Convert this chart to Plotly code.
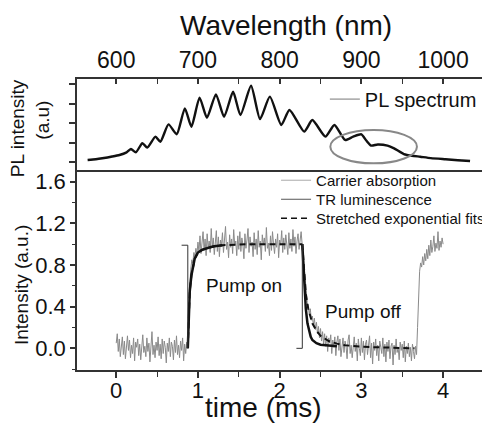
import numpy as np
import plotly.graph_objects as go

# ---------------- top panel: PL spectrum ----------------
pl_wavelength = [565, 575, 583, 595, 604, 612, 618, 624, 632, 638, 648, 654, 664, 674,
                 684, 692, 702, 711, 722, 732, 743, 752, 765, 776, 788, 802, 812, 830,
                 840, 856, 867, 880, 890, 900, 906, 912, 920, 932, 940, 952, 962, 972,
                 985, 1003, 1018, 1033]
pl_intensity = [0.10, 0.14, 0.19, 0.28, 0.36, 0.48, 0.67, 0.50, 0.96, 0.74, 1.30, 1.04, 1.93, 1.42,
                2.75, 1.81, 3.30, 2.27, 3.47, 2.32, 3.60, 2.41, 3.91, 2.20, 3.35, 1.90, 2.67, 1.56,
                2.15, 1.30, 1.90, 1.13, 1.30, 1.42, 1.10, 0.84, 0.90, 0.84, 0.70, 0.41, 0.32, 0.27,
                0.20, 0.14, 0.09, 0.05]
ellipse_nm = [862, 968]
ellipse_pl = [-0.07, 1.64]

# ---------------- bottom panel: time traces ----------------
ca_step = 0.0125
# carrier absorption before the pump (t = 0 ... 0.875)
ca_dark_t0 = 0.0
ca_dark = [0.05, 0.14, -0.03, 0.09, -0.08, 0.02, 0.11, -0.06, 0.07, -0.10,
           0.04, 0.12, -0.02, 0.08, -0.09, 0.03, -0.05, 0.10, -0.12, 0.06,
           0.01, 0.09, -0.07, 0.04, -0.11, 0.07, 0.13, -0.04, 0.02, -0.08,
           0.10, -0.03, 0.05, -0.13, 0.08, 0.16, -0.06, 0.03, -0.09, 0.06,
           -0.02, 0.11, -0.07, 0.04, -0.10, 0.09, -0.05, 0.07, 0.01, -0.14,
           0.05, -0.03, 0.10, -0.08, 0.06, 0.02, -0.11, 0.08, -0.04, 0.12,
           -0.06, 0.03, -0.09, 0.07, -0.02, 0.10, -0.12, 0.04, -0.05, 0.06,
           0.02]
# pump on (t = 0.8875 ... 2.275)
ca_on_t0 = 0.8875
ca_on = [0.35, 0.60, 0.76, 0.85, 0.82, 0.92, 0.88, 0.96, 0.90, 1.02,
         0.93, 1.08, 0.91, 0.99, 1.12, 0.94, 1.05, 0.89, 1.10, 0.96,
         1.03, 0.92, 1.15, 0.97, 1.06, 0.90, 1.01, 1.13, 0.93, 1.07,
         0.88, 1.04, 0.98, 1.11, 0.92, 1.06, 1.17, 0.95, 1.02, 0.87,
         1.09, 0.97, 1.05, 0.91, 1.14, 0.99, 1.03, 0.89, 1.08, 0.95,
         1.12, 0.93, 1.06, 1.00, 0.86, 1.10, 0.96, 1.04, 1.15, 0.92,
         1.07, 0.98, 1.02, 0.88, 1.11, 0.95, 1.05, 0.90, 1.13, 0.97,
         1.03, 0.85, 1.09, 0.99, 1.06, 0.93, 1.16, 0.96, 1.01, 0.89,
         1.08, 0.94, 1.12, 1.00, 0.91, 1.05, 0.97, 1.10, 0.87, 1.04,
         0.99, 1.13, 0.92, 1.06, 0.95, 1.09, 1.01, 0.90, 1.11, 0.96,
         1.05, 0.93, 1.14, 0.98, 1.07, 0.91, 1.03, 1.10, 0.95, 1.06,
         1.12, 1.00]
# pump off (t = 2.2875 ... 3.675)
ca_off_t0 = 2.2875
ca_off = [0.88, 0.74, 0.60, 0.52, 0.44, 0.40, 0.33, 0.38, 0.27, 0.31,
          0.22, 0.29, 0.18, 0.25, 0.14, 0.21, 0.10, 0.19, 0.07, 0.16,
          0.04, 0.14, 0.02, 0.12, -0.03, 0.10, 0.05, 0.13, -0.05, 0.08,
          0.01, 0.11, -0.07, 0.06, 0.12, -0.02, 0.09, -0.08, 0.04, 0.10,
          -0.04, 0.07, 0.02, -0.10, 0.08, 0.13, -0.05, 0.03, -0.09, 0.06,
          0.11, -0.03, 0.05, -0.12, 0.09, 0.00, -0.07, 0.10, -0.04, 0.07,
          -0.11, 0.04, 0.08, -0.06, 0.02, 0.12, -0.09, 0.05, -0.15, 0.06,
          -0.02, 0.09, -0.07, 0.03, -0.12, 0.07, 0.01, -0.05, 0.10, -0.08,
          0.04, -0.13, 0.06, -0.03, 0.08, -0.10, 0.02, 0.05, -0.16, 0.03,
          -0.06, 0.09, -0.04, 0.01, -0.11, 0.06, -0.02, 0.04, -0.09, 0.07,
          -0.13, 0.02, -0.05, 0.05, -0.08, 0.01, -0.12, 0.04, -0.03, -0.10,
          0.02, -0.06]
# next pump on (t = 3.6875 ... 4.0)
ca_back_t0 = 3.6875
ca_back = [0.20, 0.52, 0.74, 0.82, 0.78, 0.88, 0.80, 0.91, 0.84, 0.95,
           0.86, 0.99, 0.89, 1.04, 0.92, 0.98, 1.08, 0.93, 1.01, 0.96,
           1.12, 0.94, 1.03, 0.97, 1.06, 1.00]

# TR luminescence (rise and decay parts)
tr_rise_t = [0.876, 0.885, 0.90, 0.92, 0.94, 0.96, 0.98, 1.00, 1.05, 1.10, 1.15, 1.20, 1.25, 1.30]
tr_rise = [0.0, 0.30, 0.55, 0.70, 0.80, 0.86, 0.89, 0.92, 0.945, 0.96, 0.97, 0.98, 0.985, 0.99]
tr_fall_t = [2.277, 2.29, 2.30, 2.32, 2.34, 2.36, 2.38, 2.40, 2.45, 2.50, 2.55, 2.60, 2.65, 2.70]
tr_fall = [1.0, 0.78, 0.60, 0.38, 0.24, 0.16, 0.11, 0.08, 0.05, 0.035, 0.03, 0.025, 0.02, 0.02]

# stretched exponential fits
fit_rise_t = [0.876, 0.885, 0.90, 0.92, 0.94, 0.96, 0.98, 1.00, 1.05, 1.10, 1.20, 1.30, 1.60, 2.277]
fit_rise = [0.0, 0.30, 0.55, 0.70, 0.80, 0.86, 0.89, 0.92, 0.945, 0.96, 0.98, 0.99, 1.0, 1.0]
fit_fall_t = [2.277, 2.29, 2.30, 2.32, 2.35, 2.40, 2.45, 2.50, 2.60, 2.70, 2.80, 3.00, 3.20, 3.40, 3.65]
fit_fall = [1.0, 0.85, 0.72, 0.52, 0.38, 0.24, 0.17, 0.12, 0.07, 0.045, 0.03, 0.015, 0.01, 0.005, 0.0]

# pump edges
pump_on_t = [0.80, 0.876, 0.876]
pump_on_v = [0.99, 0.99, 0.0]
pump_off_t = [2.277, 2.277, 2.205]
pump_off_v = [1.0, 0.0, 0.0]


def seg_t(t0, vals):
    return list(np.round(t0 + ca_step * np.arange(len(vals)), 5))


ca_t = seg_t(ca_dark_t0, ca_dark) + seg_t(ca_on_t0, ca_on) + seg_t(ca_off_t0, ca_off) + seg_t(ca_back_t0, ca_back)
ca_v = ca_dark + ca_on + ca_off + ca_back

FONT = "Liberation Sans"
AX = "#333333"

fig = go.Figure()

# top panel
fig.add_trace(go.Scatter(x=pl_wavelength, y=pl_intensity, mode="lines", xaxis="x2", yaxis="y2",
                         line=dict(color="#111111", width=2.4, shape="spline", smoothing=0.6),
                         showlegend=False))
fig.add_trace(go.Scatter(x=[None], y=[None], mode="lines", xaxis="x2", yaxis="y2", name="PL spectrum",
                         line=dict(color="#777777", width=1), legend="legend2"))

# bottom panel
fig.add_trace(go.Scatter(x=ca_t, y=ca_v, mode="lines", line=dict(color="#8a8a8a", width=1),
                         showlegend=False))
fig.add_trace(go.Scatter(x=fit_rise_t + [None] + fit_fall_t, y=fit_rise + [None] + fit_fall, mode="lines",
                         line=dict(color="#111111", width=2, dash="6px,4px"), showlegend=False))
fig.add_trace(go.Scatter(x=tr_rise_t + [None] + tr_fall_t, y=tr_rise + [None] + tr_fall, mode="lines",
                         line=dict(color="#111111", width=2.5), showlegend=False))
fig.add_trace(go.Scatter(x=pump_on_t + [None] + pump_off_t, y=pump_on_v + [None] + pump_off_v, mode="lines",
                         line=dict(color="#333333", width=1), showlegend=False))

# legend entries (one legend box per row)
fig.add_trace(go.Scatter(x=[None], y=[None], mode="lines", name="Carrier absorption",
                         line=dict(color="#aaaaaa", width=1), legend="legend"))
fig.add_trace(go.Scatter(x=[None], y=[None], mode="lines", name="TR luminescence",
                         line=dict(color="#555555", width=1), legend="legend3"))
fig.add_trace(go.Scatter(x=[None], y=[None], mode="lines", name="Stretched exponential fits",
                         line=dict(color="#111111", width=1.5, dash="6px,4px"), legend="legend4"))

fig.add_shape(type="circle", xref="x2", yref="y2", x0=ellipse_nm[0], x1=ellipse_nm[1],
              y0=ellipse_pl[0], y1=ellipse_pl[1], line=dict(color="#888888", width=2))

# page body has an 8 px margin: figure drawn 482x416 so it ends at the window edge
split = 200 / 291
leg = dict(xanchor="left", yanchor="top", bgcolor="rgba(0,0,0,0)", font=dict(size=15))

fig.update_layout(
    width=482, height=416,
    margin=dict(l=69, r=0, t=71, b=54),
    paper_bgcolor="white", plot_bgcolor="white",
    font=dict(family=FONT, color="#111111"),
    xaxis=dict(range=[-0.48, 4.476], dtick=1, tick0=0, showline=True, linecolor=AX, linewidth=1.5,
               ticks="outside", ticklen=6, tickwidth=1.5, tickcolor=AX, showgrid=False, zeroline=False,
               minor=dict(dtick=0.5, tick0=0, ticks="outside", ticklen=5, tickcolor=AX, tickwidth=1.2),
               tickfont=dict(size=22), ticklabelstandoff=-6, anchor="y"),
    yaxis=dict(domain=[0, split], range=[-0.208, 1.712], dtick=0.4, tick0=0, tickformat=".1f",
               showline=True, linecolor=AX, linewidth=1.5, ticks="outside", ticklen=5, tickwidth=1.5,
               tickcolor=AX, showgrid=False, zeroline=False,
               minor=dict(dtick=0.2, tick0=0, ticks="outside", ticklen=3, tickcolor=AX, tickwidth=1.2),
               tickfont=dict(size=22), anchor="x"),
    xaxis2=dict(range=[552, 1047.6], dtick=100, tick0=0, side="top", anchor="y2", showline=True,
                mirror=True, linecolor=AX, linewidth=1.5, ticks="inside", ticklen=5, tickwidth=1.5,
                tickcolor=AX, showgrid=False, zeroline=False,
                minor=dict(dtick=50, tick0=0, ticks="inside", ticklen=5, tickcolor=AX, tickwidth=1.2),
                tickfont=dict(size=23)),
    yaxis2=dict(domain=[split, 1], range=[-0.41, 4.256], dtick=1, tick0=0, showticklabels=False,
                showline=True, linecolor=AX, linewidth=1.5, ticks="outside", ticklen=6, tickwidth=1.5,
                tickcolor=AX, showgrid=False, zeroline=False, anchor="x2"),
    legend=dict(x=0.4915, y=0.708, **leg),
    legend3=dict(x=0.4915, y=0.6426, **leg),
    legend4=dict(x=0.4915, y=0.5773, **leg),
    legend2=dict(x=0.612, y=0.998, xanchor="left", yanchor="top", bgcolor="rgba(0,0,0,0)",
                 font=dict(size=20)),
)


def px(x):
    return (x - 77) / 413


def py(y):
    return (370 - y) / 291


titles = [
    ("Wavelength (nm)", 290, 25, 28, 0),
    ("time (ms)", 267, 407, 28, 0),
    ("Intensity (a.u.)", 20, 285, 19, -90),
    ("PL intensity", 17, 128, 19, -90),
    ("(a.u)", 41, 120, 19, -90),
]
for text, x, y, size, ang in titles:
    fig.add_annotation(text=text, xref="paper", yref="paper", x=px(x), y=py(y), showarrow=False,
                       xanchor="center", yanchor="middle", textangle=ang, font=dict(size=size))

fig.add_annotation(text="Pump on", x=1.566, y=0.60, xref="x", yref="y", showarrow=False, font=dict(size=19))
fig.add_annotation(text="Pump off", x=3.024, y=0.35, xref="x", yref="y", showarrow=False, font=dict(size=19))

fig.write_html("out.html")
